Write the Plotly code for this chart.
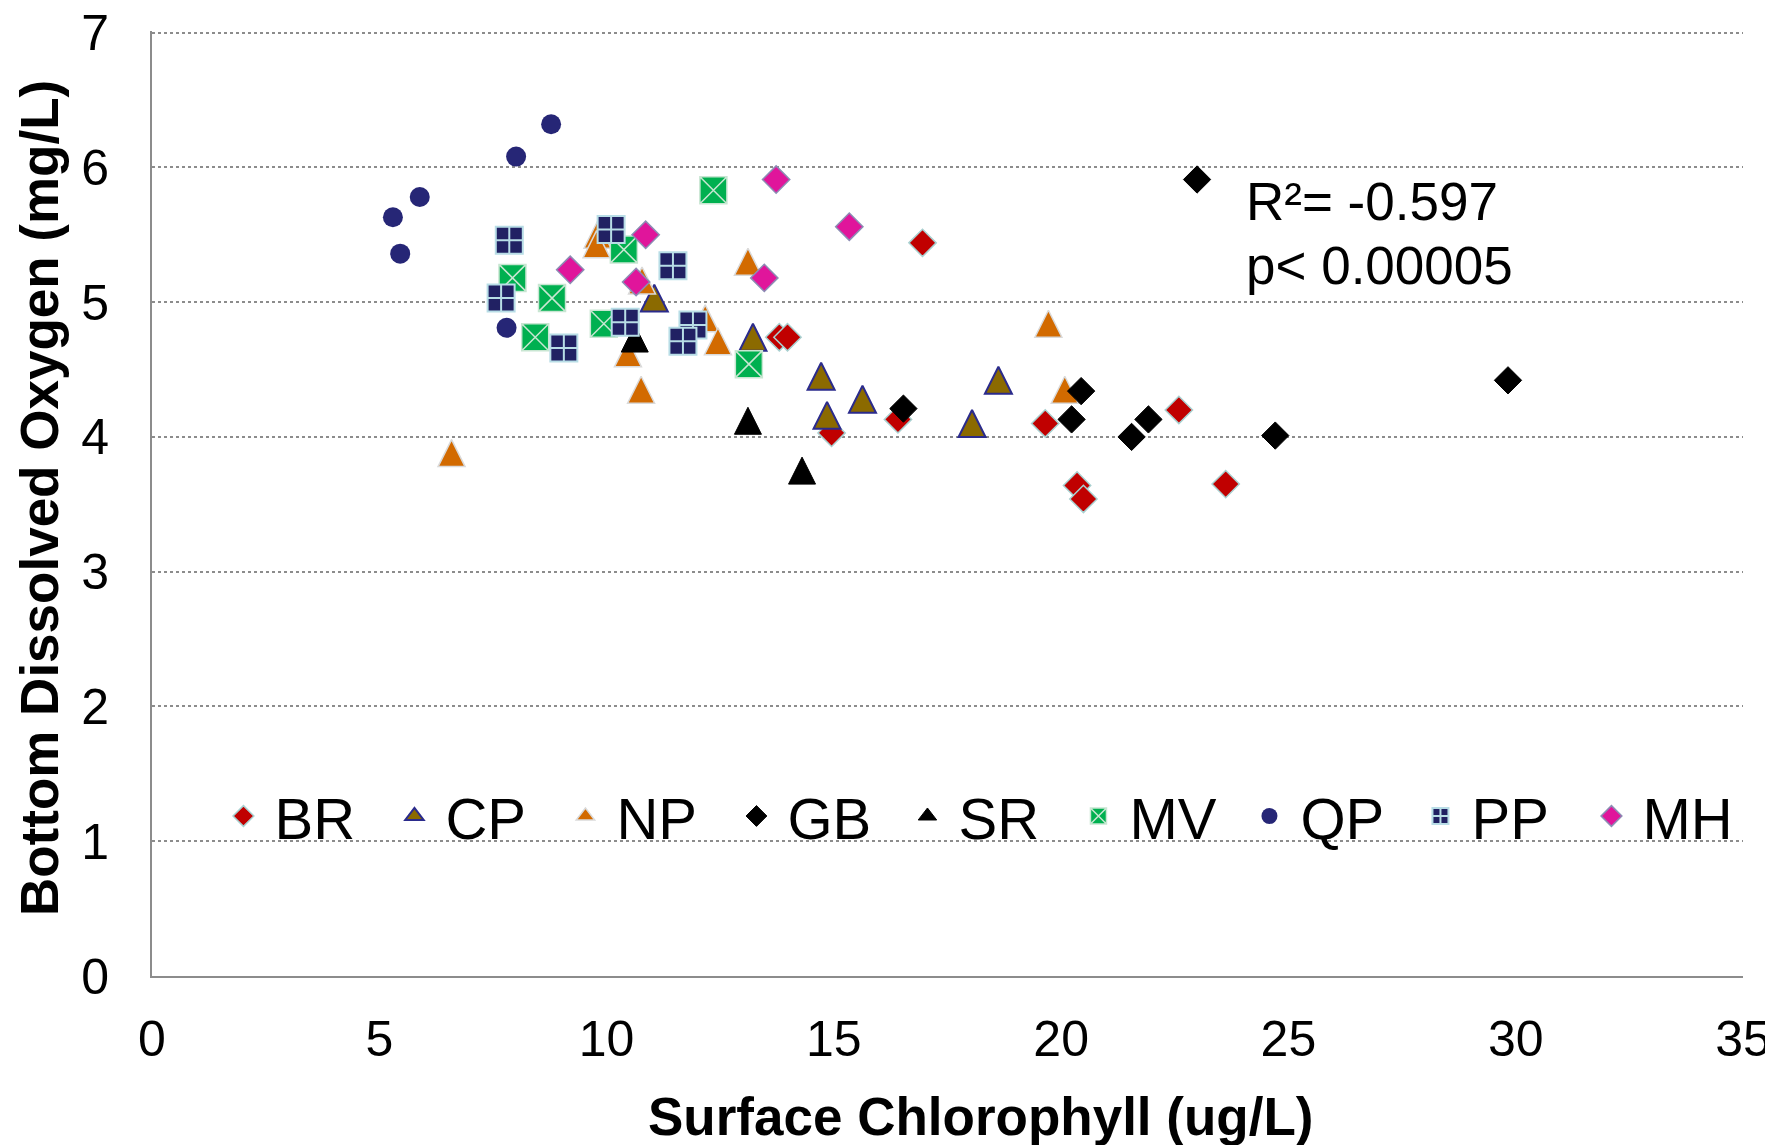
import plotly.graph_objects as go

# ---- data (Surface Chlorophyll ug/L, Bottom DO mg/L) ----
BR_x = [13.80, 13.98, 16.95, 14.95, 16.41, 19.65, 22.59, 20.35, 20.49, 23.62]
BR_y = [4.74, 4.74, 5.44, 4.03, 4.13, 4.10, 4.20, 3.64, 3.54, 3.65]

CP_x = [11.05, 13.22, 14.72, 14.85, 15.63, 18.62, 18.04]
CP_y = [5.03, 4.74, 4.45, 4.16, 4.28, 4.42, 4.10]

NP_x = [9.80, 9.78, 10.78, 12.17, 12.45, 13.11, 10.47, 10.76, 6.59, 19.72, 20.08]
NP_y = [5.50, 5.43, 5.16, 4.88, 4.71, 5.30, 4.62, 4.35, 3.88, 4.84, 4.35]

GB_x = [22.99, 20.44, 20.23, 16.53, 21.92, 21.55, 24.71, 29.83]
GB_y = [5.91, 4.34, 4.13, 4.21, 4.13, 4.00, 4.01, 4.42]

SR_x = [10.62, 13.11, 14.30]
SR_y = [4.73, 4.12, 3.75]

MV_x = [12.35, 7.93, 8.80, 8.43, 10.38, 9.94, 13.13]
MV_y = [5.83, 5.18, 5.03, 4.74, 5.39, 4.84, 4.54]

QP_x = [8.78, 8.01, 5.89, 5.30, 5.46, 7.80]
QP_y = [6.32, 6.08, 5.78, 5.63, 5.36, 4.81]

PP_x = [7.86, 7.68, 9.06, 10.10, 10.41, 11.46, 11.90, 11.68]
PP_y = [5.46, 5.03, 4.66, 5.54, 4.85, 5.27, 4.83, 4.71]

MH_x = [13.73, 15.34, 13.47, 10.86, 9.20, 10.65]
MH_y = [5.91, 5.56, 5.18, 5.50, 5.24, 5.15]

x_ticks = [0, 5, 10, 15, 20, 25, 30, 35]
y_ticks = [0, 1, 2, 3, 4, 5, 6, 7]

FONT = "Arial, Liberation Sans, sans-serif"

# Excel-like isosceles triangle (equal width and height), centred on the point
TRI = dict(symbol="arrow-down", angle=180, standoff=13.5, size=27)

series = [
    ("BR", BR_x, BR_y, dict(symbol="diamond", size=21, color="#C00000",
                            line=dict(color="#A8D0D0", width=1.5)), None),
    ("CP", CP_x, CP_y, dict(color="#8B6A00", line=dict(color="#2B2B8C", width=2), **TRI),
     "tri"),
    ("NP", NP_x, NP_y, dict(color="#D26A00", line=dict(color="#DADADA", width=1.5), **TRI),
     "tri"),
    ("GB", GB_x, GB_y, dict(symbol="diamond", size=21, color="#000000",
                            line=dict(color="#000000", width=1)), None),
    ("SR", SR_x, SR_y, dict(color="#000000", line=dict(color="#000000", width=1), **TRI),
     "tri"),
    ("MV", MV_x, MV_y, dict(symbol="square-x", size=27, color="#00B050",
                            line=dict(color="#C8E6D2", width=1.5)), None),
    ("QP", QP_x, QP_y, dict(symbol="circle", size=20, color="#262676",
                            line=dict(width=0)), None),
    ("PP", PP_x, PP_y, dict(symbol="square-cross", size=27, color="#212163",
                            line=dict(color="#B8DDE6", width=2)), None),
    ("MH", MH_x, MH_y, dict(symbol="diamond", size=21, color="#E0159B",
                            line=dict(color="#8C8CB4", width=1.5)), None),
]

fig = go.Figure()
for rank, (name, xs, ys, mk, kind) in enumerate(series):
    if kind == "tri":
        fig.add_trace(go.Scatter(x=xs, y=ys, mode="markers", name=name, marker=mk,
                                 legendgroup=name, showlegend=False))
        # legend key only (legend ignores the standoff used above)
        leg_mk = dict(symbol="triangle-up", size=16, color=mk["color"], line=mk["line"])
        fig.add_trace(go.Scatter(x=[None], y=[None], mode="markers", name=name,
                                 marker=leg_mk, legendgroup=name, showlegend=True,
                                 legendrank=100 + rank))
    else:
        fig.add_trace(go.Scatter(x=xs, y=ys, mode="markers", name=name, marker=mk,
                                 legendgroup=name, legendrank=100 + rank))

W, H = 1765, 1137  # page adds an 8px body margin
fig.update_layout(
    width=W, height=H,
    margin=dict(l=144, r=30, t=23, b=169, autoexpand=False),
    paper_bgcolor="white", plot_bgcolor="white",
    font=dict(family=FONT, size=50, color="black"),
    showlegend=True,
    legend=dict(orientation="h", x=0.038, xanchor="left", y=0.169, yanchor="middle",
                font=dict(size=58, family=FONT), bgcolor="rgba(0,0,0,0)",
                itemwidth=52, entrywidth=104, entrywidthmode="pixels",
                itemsizing="trace", tracegroupgap=0, traceorder="normal"),
    xaxis=dict(range=[0, 35], tickvals=x_ticks, ticktext=[str(v) for v in x_ticks],
               showgrid=False, zeroline=False, showline=True, linecolor="#8C8C8C",
               linewidth=2, ticks="", ticklabelstandoff=18, ticklabeloverflow="allow",
               tickfont=dict(size=50, family=FONT)),
    # top slightly past 7 so the dotted gridline at 7 is kept
    yaxis=dict(range=[0, 7.012], tickvals=y_ticks, ticktext=[str(v) for v in y_ticks],
               showgrid=True, gridcolor="#8C8C8C", griddash="dot", gridwidth=1.5,
               zeroline=False, showline=True, linecolor="#8C8C8C", linewidth=2,
               ticks="", ticklabelstandoff=31, ticklabeloverflow="allow",
               tickfont=dict(size=50, family=FONT)),
    annotations=[
        dict(text="<b>Surface Chlorophyll (ug/L)</b>", xref="paper", yref="paper",
             x=0.521, y=-0.1492, xanchor="center", yanchor="middle", showarrow=False,
             font=dict(size=53, family=FONT)),
        dict(text="<b>Bottom Dissolved Oxygen (mg/L)</b>", xref="paper", yref="paper",
             x=-0.071, y=0.5058, xanchor="center", yanchor="middle", showarrow=False,
             textangle=-90, font=dict(size=53, family=FONT)),
        dict(text="R²= -0.597", xref="paper", yref="paper",
             x=0.6864, y=0.8198, xanchor="left", yanchor="middle", align="left",
             showarrow=False, font=dict(size=53, family=FONT)),
        dict(text="p< 0.00005", xref="paper", yref="paper",
             x=0.6864, y=0.7516, xanchor="left", yanchor="middle", align="left",
             showarrow=False, font=dict(size=53, family=FONT)),
    ],
)

fig.write_html("out.html")
